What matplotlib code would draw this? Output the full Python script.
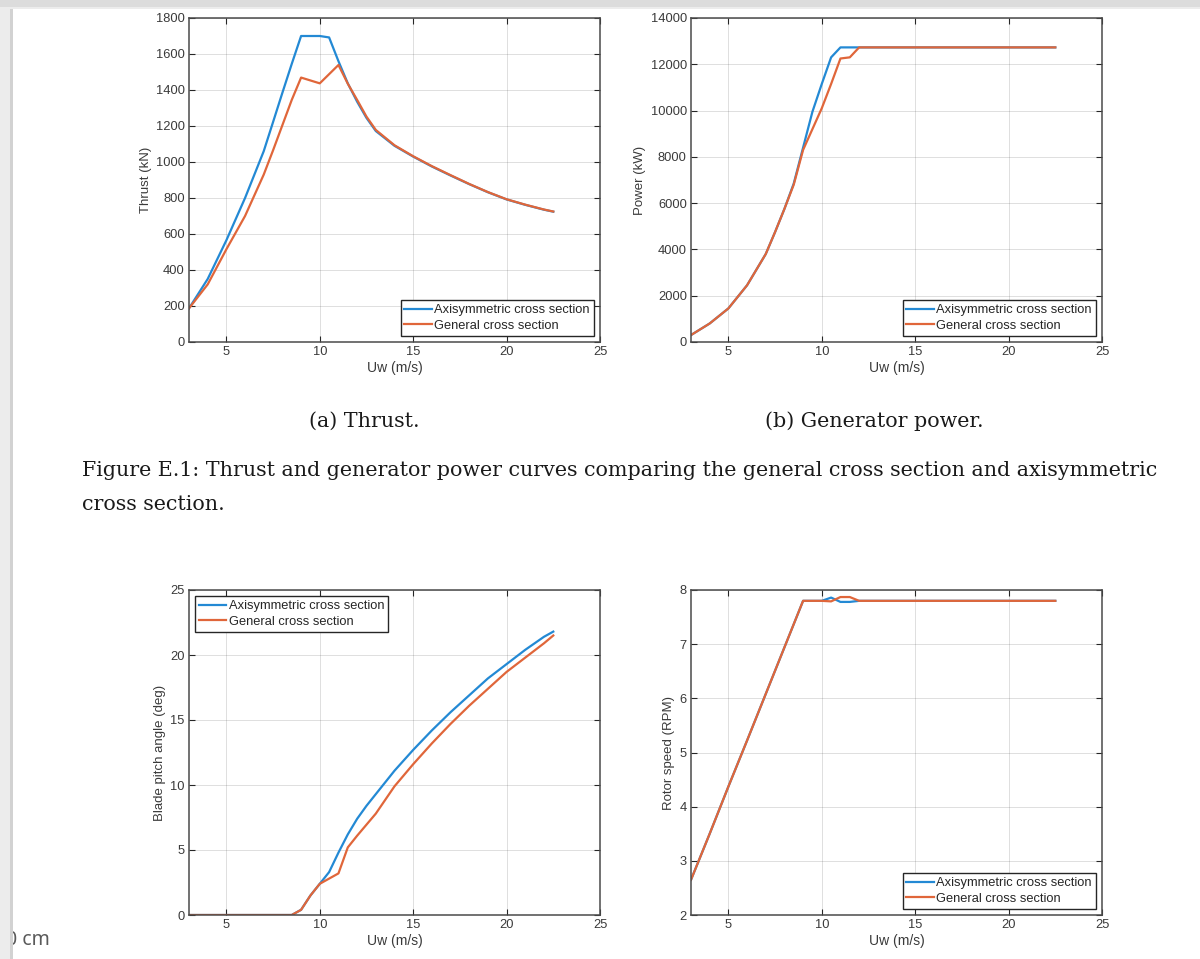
import matplotlib
matplotlib.use("Agg")
import matplotlib.pyplot as plt
from matplotlib.patches import Rectangle

# ---------------- data ----------------
wind_speed = [3, 4, 5, 6, 7, 7.5, 8, 8.5, 9, 9.5, 10, 10.5, 11, 11.5, 12, 12.5,
              13, 14, 15, 16, 17, 18, 19, 20, 21, 22, 22.5]

thrust_axi = [187, 350, 565, 800, 1060, 1222, 1385, 1545, 1700, 1700, 1700, 1692,
              1560, 1437, 1335, 1245, 1172, 1090, 1030, 975, 925, 877, 832, 792,
              762, 735, 724]
thrust_gen = [187, 320, 515, 700, 930, 1065, 1205, 1345, 1469, 1453, 1437, 1488,
              1539, 1435, 1345, 1252, 1178, 1093, 1032, 977, 927, 878, 833, 793,
              763, 736, 725]

power_axi = [300, 800, 1450, 2450, 3800, 4750, 5750, 6850, 8400, 9950, 11150, 12300,
             12730, 12730, 12730, 12730, 12730, 12730, 12730, 12730, 12730, 12730,
             12730, 12730, 12730, 12730, 12730]
power_gen = [300, 800, 1450, 2450, 3800, 4750, 5750, 6800, 8300, 9200, 10100, 11150,
             12250, 12300, 12730, 12730, 12730, 12730, 12730, 12730, 12730, 12730,
             12730, 12730, 12730, 12730, 12730]

pitch_axi = [0, 0, 0, 0, 0, 0, 0, 0, 0.4, 1.5, 2.4, 3.3, 4.8, 6.2, 7.4, 8.4, 9.3,
             11.1, 12.7, 14.2, 15.6, 16.9, 18.2, 19.3, 20.4, 21.4, 21.8]
pitch_gen = [0, 0, 0, 0, 0, 0, 0, 0, 0.4, 1.5, 2.4, 2.8, 3.2, 5.2, 6.1, 6.95, 7.8,
             9.9, 11.6, 13.2, 14.7, 16.1, 17.4, 18.7, 19.8, 20.9, 21.5]

rpm_axi = [2.65, 3.5, 4.37, 5.22, 6.08, 6.51, 6.94, 7.37, 7.8, 7.8, 7.8, 7.86, 7.78,
           7.78, 7.8, 7.8, 7.8, 7.8, 7.8, 7.8, 7.8, 7.8, 7.8, 7.8, 7.8, 7.8, 7.8]
rpm_gen = [2.65, 3.5, 4.37, 5.22, 6.08, 6.51, 6.94, 7.37, 7.8, 7.8, 7.8, 7.79, 7.87,
           7.87, 7.8, 7.8, 7.8, 7.8, 7.8, 7.8, 7.8, 7.8, 7.8, 7.8, 7.8, 7.8, 7.8]

series_labels = ["Axisymmetric cross section", "General cross section"]
x_label = "Uw (m/s)"
y_labels = ["Thrust (kN)", "Power (kW)", "Blade pitch angle (deg)", "Rotor speed (RPM)"]
x_ticks = [5, 10, 15, 20, 25]
y_ticks = [list(range(0, 1801, 200)), list(range(0, 14001, 2000)),
           [0, 5, 10, 15, 20, 25], [2, 3, 4, 5, 6, 7, 8]]
y_limits = [(0, 1800), (0, 14000), (0, 25), (2, 8)]
sub_captions = ["(a) Thrust.", "(b) Generator power."]
caption_line1 = ("Figure E.1: Thrust and generator power curves comparing the general "
                 "cross section and axisymmetric")
caption_line2 = "cross section."

# ---------------- style ----------------
W, H = 1200, 959
BLUE = "#2389d4"
ORANGE = "#e0663a"
SANS = ["Liberation Sans", "DejaVu Sans"]

fig = plt.figure(figsize=(W / 100, H / 100), dpi=100)
fig.patch.set_facecolor("white")


def rect(l, t, r, b):
    return [l / W, 1 - b / H, (r - l) / W, (b - t) / H]


boxes = [(189, 18, 600, 342), (691, 18, 1102, 342),
         (189, 590, 600, 915), (691, 590, 1102, 915)]
data = [(thrust_axi, thrust_gen), (power_axi, power_gen),
        (pitch_axi, pitch_gen), (rpm_axi, rpm_gen)]
legend_locs = ["lower right", "lower right", "upper left", "lower right"]

for i, (box, (ya, yg)) in enumerate(zip(boxes, data)):
    ax = fig.add_axes(rect(*box))
    ax.plot(wind_speed, ya, color=BLUE, lw=1.6, label=series_labels[0])
    ax.plot(wind_speed, yg, color=ORANGE, lw=1.6, label=series_labels[1])
    ax.set_xlim(3, 25)
    ax.set_ylim(*y_limits[i])
    ax.set_xticks(x_ticks)
    ax.set_yticks(y_ticks[i])
    ax.grid(True, color="#262626", alpha=0.15, lw=0.7)
    ax.set_axisbelow(True)
    for s in ax.spines.values():
        s.set_color("#4a4a4a")
        s.set_linewidth(1.1)
    ax.tick_params(direction="in", length=4, width=0.8, top=True, right=True,
                   color="#262626", labelcolor="#3a3a3a", labelsize=9.3, pad=3)
    for lab in ax.get_xticklabels() + ax.get_yticklabels():
        lab.set_family(SANS)
    ax.set_xlabel(x_label, fontsize=10, color="#3a3a3a", family=SANS, labelpad=2)
    ax.set_ylabel(y_labels[i], fontsize=9.5, color="#3a3a3a", family=SANS, labelpad=3)
    leg = ax.legend(loc=legend_locs[i], fancybox=False, framealpha=1,
                    edgecolor="#262626", prop={"family": SANS, "size": 9.3},
                    handlelength=2.1, handletextpad=0.2, borderpad=0.3,
                    labelspacing=0.25, borderaxespad=0.5)
    leg.get_frame().set_linewidth(1.0)
    for t in leg.get_texts():
        t.set_color("#262626")

# ---------------- captions ----------------
renderer = fig.canvas.get_renderer()
cap1 = fig.text(82 / W, 1 - 471 / H, caption_line1, ha="left", va="center",
                family="DejaVu Serif", fontsize=15, color="#1a1a1a")
w = cap1.get_window_extent(renderer).width
fs = 15 * (1163 - 82) / w
cap1.set_fontsize(fs)
fig.text(82 / W, 1 - 505 / H, caption_line2, ha="left", va="center",
         family="DejaVu Serif", fontsize=fs, color="#1a1a1a")
fig.text(364 / W, 1 - 421 / H, sub_captions[0], ha="center", va="center",
         family="DejaVu Serif", fontsize=fs, color="#1a1a1a")
fig.text(874 / W, 1 - 421 / H, sub_captions[1], ha="center", va="center",
         family="DejaVu Serif", fontsize=fs, color="#1a1a1a")

# ---------------- page decoration ----------------
fig.text(6 / W, 1 - 940 / H, "0 cm", ha="left", va="center", family="Noto Sans",
         fontsize=14, color="#5a5a5a", zorder=5)
fig.add_artist(Rectangle((0, 0), 13 / W, 1, transform=fig.transFigure,
                         fc="#ececec", ec="none", zorder=10))
fig.add_artist(Rectangle((10 / W, 0), 3 / W, 1, transform=fig.transFigure,
                         fc="#d2d2d2", ec="none", zorder=11))
fig.add_artist(Rectangle((0, 1 - 7 / H), 1, 7 / H, transform=fig.transFigure,
                         fc="#dcdcdc", ec="none", zorder=12))
fig.add_artist(Rectangle((0, 1 - 9 / H), 1, 2 / H, transform=fig.transFigure,
                         fc="#ececec", ec="none", zorder=12))

fig.savefig("out.png", dpi=100)
